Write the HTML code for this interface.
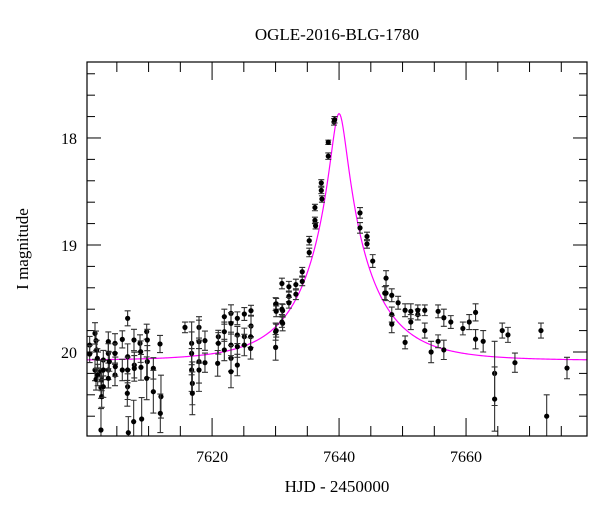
<!DOCTYPE html>
<html><head><meta charset="utf-8"><style>
body{margin:0;background:#fff}
svg text{font-family:"Liberation Serif",serif;fill:#000}
</style></head><body>
<svg id="chart" width="600" height="512" viewBox="0 0 600 512" xmlns="http://www.w3.org/2000/svg">
<text x="337" y="40" font-size="17" text-anchor="middle">OGLE-2016-BLG-1780</text>
<text x="337" y="492" font-size="17" text-anchor="middle">HJD - 2450000</text>
<text x="0" y="0" font-size="17" text-anchor="middle" transform="translate(28,249) rotate(-90)">I magnitude</text>
<g id="marks"></g>
<rect x="87" y="62" width="500" height="374" fill="none" stroke="#000" stroke-width="1.2"/>
</svg>
<script>
const t = [7600.72,7600.72,7601.56,7601.72,7601.56,7601.72,7601.82,7601.93,7601.98,7602.45,7602.61,7602.5,7602.61,7602.87,7602.87,7602.87,7603.66,7603.66,7603.66,7603.66,7603.82,7604.71,7604.71,7604.71,7604.76,7605.86,7605.86,7606.7,7606.7,7606.7,7606.7,7606.65,7606.81,7607.7,7607.75,7607.75,7607.65,7608.65,7608.75,7608.8,7608.91,7609.7,7609.8,7609.8,7609.7,7610.75,7610.75,7611.8,7611.95,7611.85,7602.5,7615.73,7616.78,7616.78,7616.78,7616.89,7616.89,7617.94,7617.94,7617.94,7617.94,7618.88,7618.88,7620.98,7620.98,7620.88,7621.93,7621.93,7621.93,7622.98,7622.98,7622.98,7622.98,7622.98,7623.98,7623.98,7623.98,7623.98,7625.08,7625.08,7625.08,7626.13,7626.13,7626.07,7626.07,7630.01,7630.01,7630.01,7631.11,7631.11,
7630.1,7630.1,7630.1,7631.0,7631.0,7631.0,7632.1,7632.1,7632.1,7633.2,7633.2,7634.2,7634.2,7635.3,7635.3,7636.2,7636.2,7636.3,7637.2,7637.2,7637.3,7638.3,7638.3,7639.2,7639.3,
7643.3,7643.3,7644.4,7644.4,7645.3,7647.4,7647.4,7647.2,7648.3,7648.3,7648.3,7649.3,7650.4,7650.4,7651.3,7651.3,7652.4,7652.4,7653.5,7653.5,7654.5,7655.6,7655.6,7656.5,7656.5,7657.6,7659.5,7660.5,7661.5,7661.5,7662.7,7664.5,7664.5,7665.7,7666.6,7667.7,7671.8,7672.7,7675.9];
const mag = [19.935,20.019,19.826,19.894,20.168,20.256,19.981,20.059,20.215,20.178,20.262,20.333,20.417,20.075,20.168,20.324,19.903,20.013,20.168,20.246,20.09,19.919,20.013,20.215,20.137,19.882,20.168,19.685,20.044,20.168,20.324,20.386,20.754,19.888,20.122,20.153,20.651,19.919,19.997,20.143,20.626,19.81,19.888,20.09,20.246,20.153,20.371,19.925,20.417,20.573,20.729,19.77,19.919,20.013,20.168,20.293,20.386,19.77,19.903,20.09,20.168,19.894,20.1,19.857,19.919,20.106,19.67,19.81,19.981,19.639,19.732,19.935,20.059,20.184,19.685,19.841,19.95,20.122,19.645,19.857,19.935,19.614,19.757,19.857,19.966,19.552,19.81,19.957,19.614,19.732,
19.55,19.62,19.8,19.36,19.6,19.72,19.39,19.48,19.54,19.37,19.46,19.25,19.34,18.96,19.07,18.65,18.77,18.82,18.42,18.49,18.57,18.04,18.17,17.85,17.83,
18.7,18.84,18.92,18.99,19.15,19.31,19.45,19.45,19.47,19.65,19.74,19.54,19.61,19.91,19.62,19.72,19.65,19.61,19.61,19.8,20.0,19.62,19.9,19.68,19.98,19.72,19.78,19.72,19.63,19.88,19.9,20.2,20.44,19.8,19.84,20.1,19.8,20.6,20.15];
const err = [0.08,0.08,0.1,0.09,0.1,0.1,0.09,0.09,0.1,0.1,0.1,0.1,0.1,0.09,0.09,0.1,0.09,0.09,0.09,0.09,0.09,0.09,0.09,0.1,0.09,0.08,0.1,0.07,0.12,0.12,0.12,0.12,0.15,0.1,0.12,0.12,0.2,0.08,0.1,0.12,0.2,0.07,0.1,0.15,0.2,0.1,0.2,0.08,0.2,0.18,0.2,0.05,0.2,0.2,0.2,0.2,0.2,0.1,0.2,0.2,0.2,0.09,0.09,0.06,0.1,0.12,0.07,0.09,0.1,0.08,0.1,0.12,0.12,0.15,0.06,0.08,0.1,0.1,0.06,0.08,0.1,0.05,0.1,0.1,0.1,0.06,0.08,0.12,0.06,0.07,
0.05,0.05,0.06,0.05,0.05,0.05,0.05,0.05,0.05,0.05,0.05,0.04,0.04,0.04,0.04,0.03,0.03,0.03,0.03,0.03,0.03,0.02,0.03,0.03,0.03,
0.05,0.05,0.04,0.04,0.06,0.07,0.07,0.06,0.06,0.07,0.08,0.06,0.06,0.06,0.07,0.07,0.05,0.05,0.05,0.07,0.1,0.06,0.06,0.08,0.09,0.06,0.06,0.07,0.08,0.09,0.1,0.3,0.3,0.07,0.07,0.09,0.07,0.2,0.1];
const xTicksMajor = [7620,7640,7660];
const yTicksMajor = [18,19,20];
const modelT0 = 7640.0, modelU0 = 0.12, modelTE = 10, modelBase = 20.08;

const X0=87,X1=587,Y0=62,Y1=436;
const xMin=7600.3,xMax=7679.05,yMin=17.29,yMax=20.785;
const xs=v=>X0+(v-xMin)/(xMax-xMin)*(X1-X0);
const ys=v=>Y0+(v-yMin)/(yMax-yMin)*(Y1-Y0);
const NS="http://www.w3.org/2000/svg";
const svg=document.getElementById('chart');
const g=document.getElementById('marks');
function mk(tag,attrs,parent){const e=document.createElementNS(NS,tag);for(const k in attrs)e.setAttribute(k,attrs[k]);(parent||g).appendChild(e);return e;}

// ticks
for(let v=7600;v<=7680;v+=5){
  if(v<xMin||v>xMax)continue;
  const major=v%20===0, L=major?18:10, x=xs(v);
  const a=mk('line',{x1:x,x2:x,y1:Y1,y2:Y1-L,stroke:'#000','stroke-width':1});
  
  
  const b=mk('line',{x1:x,x2:x,y1:Y0,y2:Y0+L,stroke:'#000','stroke-width':1});
  
  
}
xTicksMajor.forEach(v=>{
  const tx=mk('text',{x:xs(v),y:462,'font-size':16,'text-anchor':'middle'});
  tx.textContent=v;
  
  
});
for(let i=0;i<=20;i++){
  const v=17.4+i*0.2;
  if(v<yMin||v>yMax)continue;
  const major=Math.abs(v-Math.round(v))<1e-6, L=major?14:8, y=ys(v);
  const a=mk('line',{x1:X0,x2:X0+L,y1:y,y2:y,stroke:'#000','stroke-width':1});
  
  
  const b=mk('line',{x1:X1,x2:X1-L,y1:y,y2:y,stroke:'#000','stroke-width':1});
  
  
}
yTicksMajor.forEach(v=>{
  const tx=mk('text',{x:77,y:ys(v)+6,'font-size':16,'text-anchor':'end'});
  tx.textContent=v;
  
  
});

// model
let d='';
for(let x=X0;x<=X1;x+=1){
  const tt=xMin+(x-X0)/(X1-X0)*(xMax-xMin);
  const tau=(tt-modelT0)/modelTE, u=Math.sqrt(modelU0*modelU0+tau*tau);
  const A=(u*u+2)/(u*Math.sqrt(u*u+4));
  const m=modelBase-2.5*Math.log10(A);
  d+=(x===X0?'M':'L')+x+','+ys(m).toFixed(2);
}
const clip=mk('clipPath',{id:'pc'},svg);
mk('rect',{x:X0,y:Y0,width:X1-X0,height:Y1-Y0},clip);
const path=mk('path',{d:d,fill:'none',stroke:'#ff00ff','stroke-width':1.2,'clip-path':'url(#pc)'});



// data
const dg=mk('g',{'clip-path':'url(#pc)'});


for(let i=0;i<t.length;i++){
  const x=xs(t[i]), y=ys(mag[i]), y1=ys(mag[i]-err[i]), y2=ys(mag[i]+err[i]);
  const eb=mk('path',{d:`M${x},${y1}L${x},${y2}M${x-3},${y1}L${x+3},${y1}M${x-3},${y2}L${x+3},${y2}`,stroke:'#333','stroke-width':1.1,fill:'none'},dg);
  
  
  const c=mk('circle',{cx:x,cy:y,r:2.6,fill:'#000'},dg);
  
  
}
</script>
</body></html>
